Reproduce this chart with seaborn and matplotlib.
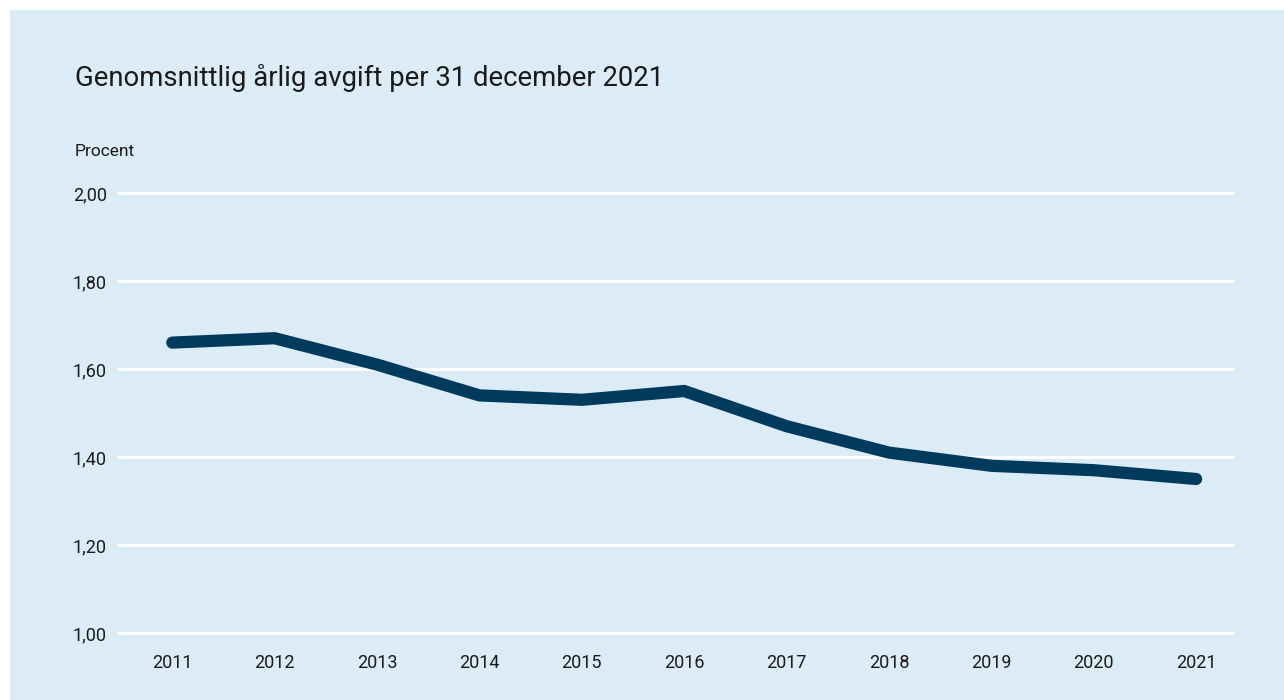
import matplotlib
matplotlib.use("Agg")
import matplotlib.pyplot as plt
import matplotlib.patches as patches
import pandas as pd
import seaborn as sns

# data
years = [2011, 2012, 2013, 2014, 2015, 2016, 2017, 2018, 2019, 2020, 2021]
avgift = [1.66, 1.67, 1.61, 1.54, 1.53, 1.55, 1.47, 1.41, 1.38, 1.37, 1.35]
yticks = [1.0, 1.2, 1.4, 1.6, 1.8, 2.0]

bg = "#DBECF6"
navy = "#003A5D"

sns.set_theme(style="white")
plt.rcParams["font.family"] = ["Roboto", "DejaVu Sans"]

df = pd.DataFrame({"year": years, "avgift": avgift})

fig = plt.figure(figsize=(12.84, 7.0), dpi=100, facecolor="white")
fig.patches.append(patches.Rectangle((10 / 1284, 0), 1, 1 - 10 / 700,
                                     transform=fig.transFigure, facecolor=bg,
                                     edgecolor="none", zorder=-1))
ax = fig.add_axes([118 / 1284, 1 - 633 / 700, (1233 - 118) / 1284, (633 - 193) / 700])
ax.set_zorder(1)
ax.set_facecolor(bg)

# white gridlines, not clipped so the edge lines keep full width
for y in yticks:
    ax.axhline(y, color="white", lw=2, zorder=1, clip_on=False)

sns.lineplot(data=df, x="year", y="avgift", color=navy, linewidth=8.8, ax=ax,
             solid_capstyle="round", solid_joinstyle="round", zorder=3)

ax.set_xlim(2010.47, 2021.36)
ax.set_ylim(1.0, 2.0)
ax.set_xticks(years)
ax.set_xticklabels([str(y) for y in years])
ax.set_yticks(yticks)
ax.set_yticklabels([f"{y:.2f}".replace(".", ",") for y in yticks])
ax.tick_params(axis="both", length=0, labelsize=13, labelcolor="#1a1a1a")
ax.tick_params(axis="y", pad=8)
ax.tick_params(axis="x", pad=15)
ax.set_xlabel("")
ax.set_ylabel("")
for s in ax.spines.values():
    s.set_visible(False)

fig.text(75 / 1284, 1 - 78 / 700, "Genomsnittlig årlig avgift per 31 december 2021",
         fontsize=19.8, color="#1a1a1a", va="center", ha="left")
fig.text(75 / 1284, 1 - 152 / 700, "Procent", fontsize=12.5, color="#1a1a1a",
         va="center", ha="left")

fig.savefig("out.png", dpi=100, facecolor="white")
